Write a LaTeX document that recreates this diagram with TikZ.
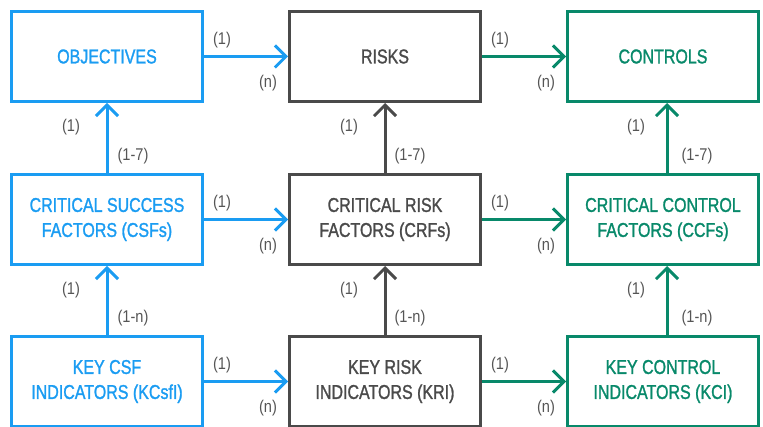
\documentclass[tikz,border=0pt]{standalone}
\usepackage{fontspec}
\setmainfont{Liberation Sans}[FakeStretch=0.8]
\newfontfamily\boxfont{Liberation Sans}[FakeStretch=0.8, FakeBold=1.3]
\newfontfamily\labfont{Liberation Sans}[FakeStretch=0.86]
\usetikzlibrary{arrows.meta}
\definecolor{cblue}{HTML}{1A9CF2}
\definecolor{cgray}{HTML}{4A4A4A}
\definecolor{cgreen}{HTML}{08896A}
\definecolor{clabel}{HTML}{555555}
\begin{document}
\begin{tikzpicture}[x=1pt,y=-1pt,
  box/.style={draw, line width=3pt, minimum width=191pt, minimum height=90pt,
    inner sep=0pt, align=center, font=\boxfont\fontsize{20}{25}\selectfont},
  bluebox/.style={box, draw=cblue, text=cblue},
  graybox/.style={box, draw=cgray, text=cgray},
  greenbox/.style={box, draw=cgreen, text=cgreen},
  conn/.style={line width=3pt, -{Straight Barb[length=11pt,width=22pt,line width=3pt]}},
  lab/.style={text=clabel, font=\labfont\fontsize{17}{19}\selectfont, inner sep=0pt},
]
\useasboundingbox (0,0) rectangle (763,427);

% boxes
\node[bluebox]  (obj)  at (107,56.5) {OBJECTIVES};
\node[graybox]  (risk) at (385,56.5) {RISKS};
\node[greenbox] (ctrl) at (663,56.5) {CONTROLS};

\node[bluebox]  (csf) at (107,219.5) {CRITICAL SUCCESS\\FACTORS (CSFs)};
\node[graybox]  (crf) at (385,219.5) {CRITICAL RISK\\FACTORS (CRFs)};
\node[greenbox] (ccf) at (663,219.5) {CRITICAL CONTROL\\FACTORS (CCFs)};

\node[bluebox]  (kcsf) at (107,381.5) {KEY CSF\\INDICATORS (KCsfI)};
\node[graybox]  (kri)  at (385,381.5) {KEY RISK\\INDICATORS (KRI)};
\node[greenbox] (kci)  at (663,381.5) {KEY CONTROL\\INDICATORS (KCI)};

% horizontal connectors
\draw[conn, cblue]  (obj)  -- (risk);
\draw[conn, cgreen] (risk) -- (ctrl);
\draw[conn, cblue]  (csf)  -- (crf);
\draw[conn, cgreen] (crf)  -- (ccf);
\draw[conn, cblue]  (kcsf) -- (kri);
\draw[conn, cgreen] (kri)  -- (kci);

% vertical connectors
\draw[conn, cblue]  (csf.north)  -- (obj.south);
\draw[conn, cgray]  (crf.north)  -- (risk.south);
\draw[conn, cgreen] ([xshift=4pt]ccf.north) -- ([xshift=4pt]ctrl.south);
\draw[conn, cblue]  (kcsf.north) -- (csf.south);
\draw[conn, cgray]  (kri.north)  -- (crf.south);
\draw[conn, cgreen] ([xshift=4pt]kci.north) -- ([xshift=4pt]ccf.south);

% horizontal labels
\foreach \yc/\r in {56.5/a, 219.5/b, 381.5/c}{
  \node[lab] (h1\r) at (222,\yc-16) {(1)};
  \node[lab] (hn\r) at (268,\yc+27) {(n)};
  \node[lab] (h2\r) at (500,\yc-16) {(1)};
  \node[lab] (hm\r) at (546,\yc+27) {(n)};
}

% vertical labels
\node[lab] (v1a) at (71,127) {(1)};
\node[lab] (v7a) at (133,156) {(1-7)};
\node[lab] (v1b) at (349,127) {(1)};
\node[lab] (v7b) at (410,156) {(1-7)};
\node[lab] (v1c) at (636,127) {(1)};
\node[lab] (v7c) at (697,156) {(1-7)};

\node[lab] (w1a) at (71,290) {(1)};
\node[lab] (wna) at (133,318) {(1-n)};
\node[lab] (w1b) at (349,290) {(1)};
\node[lab] (wnb) at (410,318) {(1-n)};
\node[lab] (w1c) at (636,290) {(1)};
\node[lab] (wnc) at (697,318) {(1-n)};
\end{tikzpicture}
\end{document}
